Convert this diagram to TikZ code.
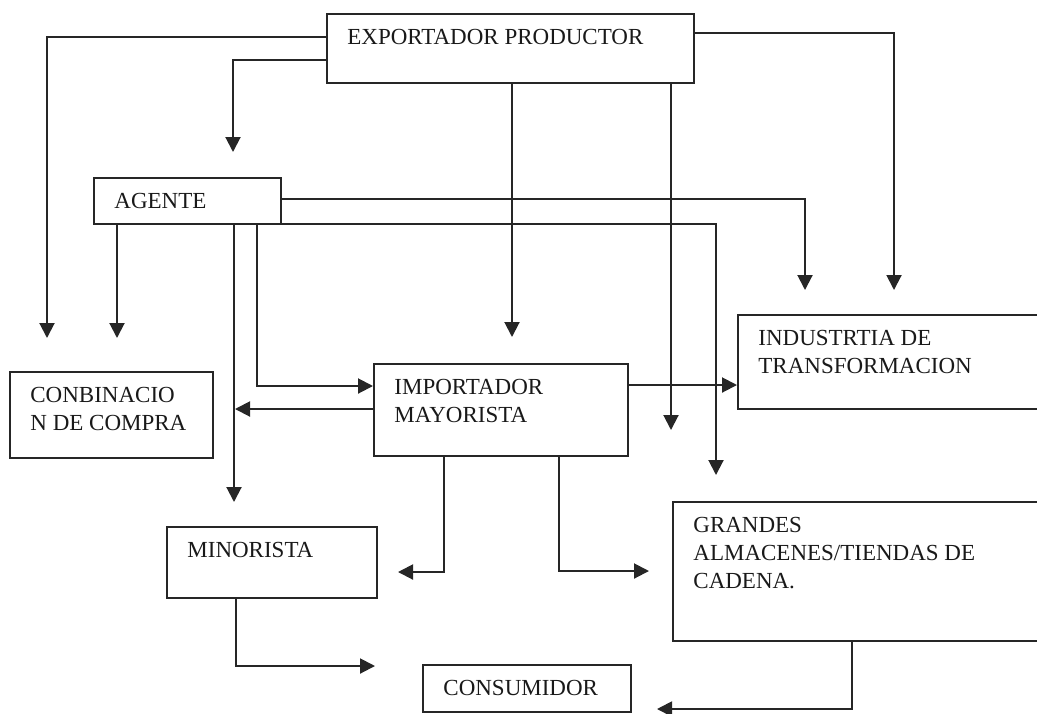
\documentclass[tikz,border=0pt]{standalone}
\usepackage{fontspec}
\setmainfont{Liberation Serif}
\usetikzlibrary{arrows.meta, calc}
\tikzstyle{caja} = [
    rectangle,
    draw=black!85,
    line width=1pt,
    anchor=north west,
    inner sep=0pt
]
\tikzstyle{rotulo} = [
    anchor=north west,
    align=left,
    inner xsep=10.5pt,
    inner ysep=8pt,
    text=black!90,
    font=\fontsize{11.5}{14}\selectfont
]
\tikzstyle{flecha} = [
    draw=black!85,
    line width=1pt,
    -{Triangle[length=7.5pt, width=7.5pt]}
]

\begin{document}
\begin{tikzpicture}[
    x=0.5pt, y=-0.5pt
]
\useasboundingbox (0,0) rectangle (1037,713);
\clip (0,0) rectangle (1037,713);

% cajas
\node [caja, minimum width=183.5pt, minimum height=34.5pt,
    label={[rotulo]north west:EXPORTADOR PRODUCTOR}] (exp) at (326,13) {};
\node [caja, minimum width=93.5pt, minimum height=23pt,
    label={[rotulo]north west:AGENTE}] (agente) at (93,177) {};
\node [caja, minimum width=101.5pt, minimum height=43pt,
    label={[rotulo]north west:{CONBINACIO\\N DE COMPRA}}] (conbin) at (9,371) {};
\node [caja, minimum width=127pt, minimum height=46pt,
    label={[rotulo]north west:{IMPORTADOR\\MAYORISTA}}] (import) at (373,363) {};
\node [caja, minimum width=200pt, minimum height=47pt,
    label={[rotulo]north west:{INDUSTRTIA DE\\TRANSFORMACION}}] (industria) at (737,314) {};
\node [caja, minimum width=105pt, minimum height=35.5pt,
    label={[rotulo]north west:MINORISTA}] (minor) at (166,526) {};
\node [caja, minimum width=200pt, minimum height=69.5pt,
    label={[rotulo]north west:{GRANDES\\ALMACENES/TIENDAS DE\\CADENA.}}] (grandes) at (672,501) {};
\node [caja, minimum width=104pt, minimum height=23.5pt,
    label={[rotulo]north west:CONSUMIDOR}] (consum) at (422,664) {};

% puntas sueltas
\coordinate (t1) at (47,338);
\coordinate (t2) at (233,152);
\coordinate (t3) at (512,337);
\coordinate (t4) at (671,430);
\coordinate (t5) at (894,290);
\coordinate (t6) at (805,290);
\coordinate (t7) at (716,475);
\coordinate (t8) at (117,338);
\coordinate (t9) at (234,502);
\coordinate (t11) at (235,409);
\coordinate (t13) at (398,572);
\coordinate (t14) at (649,571);
\coordinate (t15) at (375,666);
\coordinate (t16) at (657,709);

% desde exportador
\draw [flecha] ($(exp.north west)+(0,24)$) -| (t1);
\draw [flecha] ($(exp.north west)+(0,47)$) -| (t2);
\draw [flecha] (exp.south -| t3) -- (t3);
\draw [flecha] (exp.south -| t4) -- (t4);
\draw [flecha] ($(exp.north east)+(0,20)$) -| (t5);

% desde agente
\draw [flecha] ($(agente.north east)+(0,22)$) -| (t6);
\draw [flecha] ($(agente.south east)+(0,-1)$) -| (t7);
\draw [flecha] (agente.south -| t8) -- (t8);
\draw [flecha] (agente.south -| t9) -- (t9);
\draw [flecha] ($(agente.south west)+(164,0)$) |- ($(import.north west)+(0,23)$);

% desde importador
\draw [flecha] (import.west |- t11) -- (t11);
\draw [flecha] ($(import.north east)+(0,22)$) -- ($(industria.north west)+(0,71)$);
\draw [flecha] ($(import.south west)+(71,0)$) |- (t13);
\draw [flecha] ($(import.south west)+(186,0)$) |- (t14);

% hacia consumidor
\draw [flecha] ($(minor.south west)+(70,0)$) |- (t15);
\draw [flecha] ($(grandes.south west)+(180,0)$) |- (t16);
\end{tikzpicture}
\end{document}
